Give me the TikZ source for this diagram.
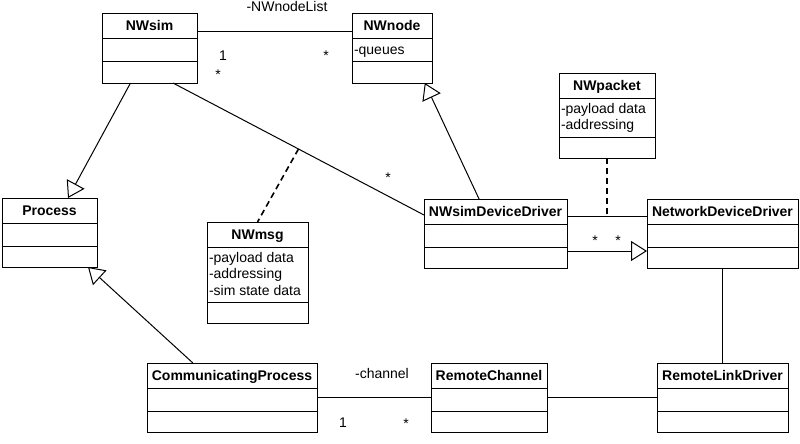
\documentclass[tikz,border=0pt]{standalone}
\usepackage{fontspec}
\setmainfont{Liberation Sans}
\usetikzlibrary{calc,arrows.meta}

\newcommand*{\umlclass}[6][23]{%
  \node[classbox, minimum width=#4, minimum height=#1+46] (#2) at #3 {};
  \node[classname] (#2-name) at ($(#2.north)+(0,-17)$) {#5};
  \draw ($(#2.north west)+(0,-25)$) -- ($(#2.north east)+(0,-25)$);
  \draw ($(#2.south west)+(0,21)$) -- ($(#2.south east)+(0,21)$);
  \node[classattr] (#2-attr) at ($(#2.north west)+(0,-25)$) {\strut#6};
}

\begin{document}
\begin{tikzpicture}[x=1pt, y=1pt, line width=1pt,
    font=\fontsize{14}{16.5}\selectfont,
    classbox/.style={draw, inner sep=0pt, outer sep=0pt, anchor=north west},
    classname/.style={font=\fontsize{14}{16.5}\selectfont\bfseries, anchor=base, inner sep=0pt},
    classattr/.style={align=left, anchor=north west, inner xsep=1.5pt, inner ysep=3pt},
    assoclabel/.style={anchor=base, inner sep=0pt},
    generalization/.style={-{Triangle[open, length=16pt, width=20pt]}},
    dependency/.style={dash pattern=on 6pt off 4pt, line width=1.6pt}]
    \useasboundingbox (0,0) rectangle (800,-444);

    \umlclass{nwsim}{(102,-14)}{95}{NWsim}{}
    \umlclass{nwnode}{(352,-14)}{80}{NWnode}{-queues}
    \umlclass[39]{nwpacket}{(559,-73)}{96}{NWpacket}{-payload data\\-addressing}
    \umlclass{process}{(2,-198)}{95}{Process}{}
    \umlclass[55]{nwmsg}{(207,-222)}{101}{NWmsg}{-payload data\\-addressing\\-sim state data}
    \umlclass{nwsimdd}{(424,-199)}{143}{NWsimDeviceDriver}{}
    \umlclass{netdd}{(647,-199)}{151}{NetworkDeviceDriver}{}
    \umlclass{commproc}{(147,-363)}{170}{CommunicatingProcess}{}
    \umlclass{rchannel}{(431,-363)}{116}{RemoteChannel}{}
    \umlclass{rld}{(657,-363)}{131}{RemoteLinkDriver}{}

    \draw ($(nwsim.north east)+(0,-18)$) -- ($(nwnode.north west)+(0,-18)$);
    \draw ($(nwsim.south west)!0.747!(nwsim.south east)$) -- coordinate (msglink) ($(nwsimdd.north west)+(0,-16)$);
    \draw ($(nwsimdd.north east)+(0,-17)$) -- coordinate (pktlink) ($(netdd.north west)+(0,-17)$);
    \draw (netdd.south) -- (rld.north);
    \draw (commproc.east) -- (rchannel.west);
    \draw (rchannel.east) -- (rld.west);
    \begin{scope}[generalization]
      \draw ($(nwsim.south west)!0.3!(nwsim.south east)$) -- ($(process.north west)!0.695!(process.north east)$);
      \draw ($(nwsimdd.north west)!0.385!(nwsimdd.north east)$) -- ($(nwnode.south west)!0.91!(nwnode.south east)$);
      \draw ($(nwsimdd.south east)+(0,17)$) -- ($(netdd.south west)+(0,17)$);
      \draw ($(commproc.north west)!0.27!(commproc.north east)$) -- ($(process.south west)!0.905!(process.south east)$);
    \end{scope}
    \begin{scope}[dependency]
      \draw (msglink) -- (nwmsg.north);
      \draw (nwpacket.south) -- (pktlink);
    \end{scope}

    \node[assoclabel] (nodelist) at (287,-12) {-NWnodeList};
    \node[assoclabel] (nwsim-one) at (223,-60) {1};
    \node[assoclabel] (nwnode-many) at (326,-60) {*};
    \node[assoclabel] (nwsim-many) at (218,-79) {*};
    \node[assoclabel] (nwsimdd-many) at (388,-182) {*};
    \node[assoclabel] (nwsimdd-many2) at (595,-245) {*};
    \node[assoclabel] (netdd-many) at (618,-245) {*};
    \node[assoclabel] (channel) at (382,-378) {-channel};
    \node[assoclabel] (commproc-one) at (343,-427) {1};
    \node[assoclabel] (rchannel-many) at (406,-428) {*};
  \end{tikzpicture}
\end{document}
